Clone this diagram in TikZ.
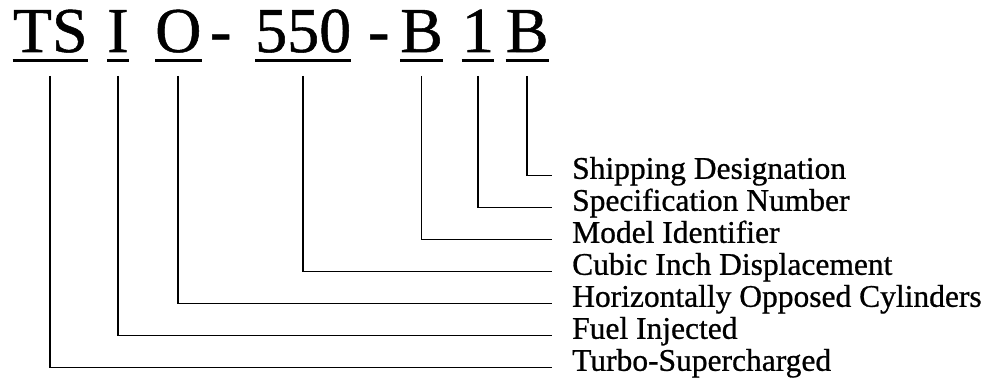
\documentclass[tikz,border=0pt]{standalone}
\usepackage{fontspec}
\setmainfont{Liberation Serif}[FakeBold=0.8]
\begin{document}
\begin{tikzpicture}[x=1pt,y=-1pt,
  code/.style={inner sep=0pt,anchor=base west,font=\fontsize{64}{70}\selectfont},
  dashchar/.style={inner sep=0pt,anchor=base,font=\fontsize{64}{70}\selectfont},
  label/.style={inner ysep=0pt,inner xsep=20pt,anchor=west,text height=0.912em,text depth=0.25em,font=\fontsize{31.5}{36}\selectfont},
  uline/.style={line width=3pt},
  conn/.style={line width=1.8pt,line join=miter}]
\useasboundingbox (0,0) rectangle (990,387);
% code letters
\node[code] (ts) at (12.7,52) {TS};
\node[code] (inj) at (107,52) {I};
\node[code] (opp) at (155,52) {O};
\node[dashchar] (h1) at (220.7,52) {-};
\node[code] (cid) at (255,52) {550};
\node[dashchar] (h2) at (378.7,52) {-};
\node[code] (mod) at (400,52) {B};
\node[code] (spec) at (461.7,52) {1};
\node[code] (ship) at (505.7,52) {B};
% underlines
\foreach \n in {ts,inj,opp,cid,mod,spec,ship}
  \draw[uline] ([yshift=-9pt]\n.base west) -- ([yshift=-9pt]\n.base east);
% labels
\node[label] (lship) at (552,175.5) {Shipping Designation};
\node[label] (lspec) at (552,207.5) {Specification Number};
\node[label] (lmod) at (552,239.5) {Model Identifier};
\node[label] (lcid) at (552,271.5) {Cubic Inch Displacement};
\node[label] (lopp) at (552,303.5) {Horizontally Opposed Cylinders};
\node[label] (linj) at (552,335.5) {Fuel Injected};
\node[label] (lts) at (552,367.5) {Turbo-Supercharged};
% connectors
\coordinate (top) at (0,76);
\draw[conn] (ts |- top) |- (lts.west);
\draw[conn] (inj |- top) |- (linj.west);
\draw[conn] (opp |- top) |- (lopp.west);
\draw[conn] (cid |- top) |- (lcid.west);
\draw[conn] (mod |- top) |- (lmod.west);
\draw[conn] (spec |- top) |- (lspec.west);
\draw[conn] (ship |- top) |- (lship.west);
\end{tikzpicture}
\end{document}
